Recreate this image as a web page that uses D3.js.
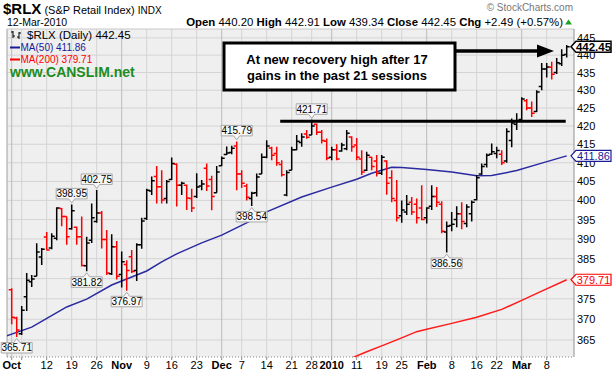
<!DOCTYPE html>
<html>
<head>
<meta charset="utf-8">
<script src="https://cdn.jsdelivr.net/npm/d3@7"></script>
<style>
  body { margin: 0; background: #fff; }
  svg { display: block; font-family: "Liberation Sans", Arial, sans-serif; }
</style>
</head>
<body>
<div id="chart"></div>
<script>
// trading days shown, by month
const octDays = [1,2,5,6,7,8,9,12,13,14,15,16,19,20,21,22,23,26,27,28,29,30];
const novDays = [2,3,4,5,6,9,10,11,12,13,16,17,18,19,20,23,24,25,27,30];
const decDays = [1,2,3,4,7,8,9,10,11,14,15,16,17,18,21,22,23,24,28,29,30,31];
const janDays = [4,5,6,7,8,11,12,13,14,15,19,20,21,22,25,26,27,28,29];
const febDays = [1,2,3,4,5,8,9,10,11,12,16,17,18,19,22,23,24,25,26];
const marDays = [1,2,3,4,5,8,9,10,11,12];

// daily OHLC
const opens = [377.2,370.3,366.5,375.5,379.2,380.6,385.4,390.5,387.7,390.2,
  397.9,395.8,392.6,393.0,390.6,383.2,389.7,394.5,396.7,389.9,
  381.2,388.0,381.0,383.5,385.5,382.0,388.5,395.3,402.5,406.3,
  403.6,400.5,405.5,409.6,404.0,404.0,400.5,401.0,403.8,408.5,
  405.5,402.0,409.2,412.2,412.8,414.5,407.0,403.8,400.5,402.0,
  407.0,411.5,414.0,412.5,409.5,401.4,408.0,413.5,415.5,417.8,
  417.5,420.5,418.3,415.8,411.5,413.5,413.2,413.8,417.0,414.8,
  411.0,408.0,411.5,410.5,407.2,410.5,406.0,400.0,396.0,397.0,
  399.5,399.0,398.0,395.5,398.5,401.0,399.0,391.8,393.5,395.0,
  396.5,394.0,396.5,400.2,407.0,409.5,412.3,412.5,412.3,410.5,
  416.0,420.5,421.8,427.0,425.0,424.0,431.0,436.0,436.5,435.0,
  437.5,440.20];
const highs = [377.6,370.6,373.2,381.4,380.9,388.9,387.7,391.8,391.5,398.2,
  398.0,395.8,398.95,393.2,395.8,390.6,399.2,402.75,397.2,392.3,
  391.2,389.5,386.8,384.6,387.2,388.9,395.5,403.1,406.3,409.1,
  408.0,405.4,411.4,409.9,404.9,404.2,403.1,407.2,405.4,409.8,
  406.5,409.1,411.7,414.4,414.6,415.79,408.0,404.4,402.3,407.1,
  412.5,416.1,414.3,414.3,410.7,408.0,414.3,417.5,418.0,418.9,
  421.71,420.7,418.9,416.6,414.3,415.0,415.4,418.9,417.2,416.7,
  413.4,413.0,411.6,412.1,412.1,410.7,408.0,405.4,400.0,401.4,
  400.9,400.5,404.0,398.2,404.0,403.5,399.8,394.5,397.0,398.5,
  399.5,399.0,400.0,406.7,409.8,412.5,415.2,414.3,413.4,419.4,
  422.1,423.5,428.0,427.5,426.8,430.0,437.7,437.7,438.1,439.2,
  441.7,442.91];
const lows = [368.8,365.71,366.2,372.0,377.9,380.6,383.4,387.1,387.4,389.7,
  393.3,388.5,392.4,388.5,383.0,381.82,389.0,394.2,387.6,380.9,
  380.9,379.8,377.8,376.97,381.4,379.4,387.5,394.9,401.4,399.2,
  399.2,399.2,405.4,398.4,401.4,397.5,397.0,400.6,402.7,402.5,
  397.4,402.0,409.1,412.1,412.3,402.7,403.3,400.0,398.54,401.0,
  407.0,411.2,410.7,409.2,406.3,401.1,408.0,413.4,414.3,416.5,
  417.5,417.5,415.2,410.7,410.7,410.7,413.0,413.4,413.0,410.7,
  406.7,407.8,408.0,406.3,406.7,401.5,399.5,394.5,394.2,396.2,
  396.2,394.0,394.8,394.0,397.5,398.3,391.5,386.56,392.0,393.0,
  392.5,393.0,394.5,400.0,406.7,408.7,412.1,411.2,409.4,410.0,
  414.2,418.9,421.5,424.4,422.5,423.9,430.0,433.6,433.0,434.6,
  436.9,439.34];
const closes = [370.5,367.4,372.2,379.6,379.9,386.7,387.4,387.2,390.7,398.0,
  395.8,390.6,397.3,390.6,383.3,389.0,395.5,396.7,389.9,381.4,
  388.0,380.6,384.2,382.0,381.8,388.5,394.6,402.7,405.2,403.6,
  400.1,405.0,409.8,404.0,404.5,400.6,398.0,403.5,404.3,403.8,
  401.0,407.5,411.2,412.6,413.9,407.0,404.5,400.8,401.9,406.2,
  411.5,414.5,412.0,410.0,406.8,407.4,413.5,415.8,417.0,416.9,
  420.0,418.3,416.0,411.2,413.5,411.0,414.8,418.0,414.3,411.5,
  407.5,412.0,409.0,407.2,411.5,404.5,400.5,395.5,397.5,399.0,
  397.0,395.5,395.0,398.0,401.0,399.5,392.0,393.3,393.8,396.5,
  394.5,398.3,399.5,406.0,409.0,412.0,413.0,413.3,410.0,418.5,
  420.8,421.5,427.5,425.0,423.5,429.5,436.0,436.6,434.5,437.8,
  439.96,442.45];
const priorClose = 380.0;

// moving averages (bar index, value)
const ma50Idx = [-1,4,11,15,20,24,27,30,33,38,42,48,51,58,64,69,72,76,78,83,88,93,96,101,106,111];
const ma50Val = [366.0,368.1,373.0,374.9,378.4,380.4,381.9,384.2,386.2,389.0,391.0,394.8,397.0,400.9,403.5,
  405.6,407.2,408.8,408.7,408.2,407.5,406.5,406.6,407.9,409.9,411.86];
const ma200Idx = [68,71,74,78,81,83,88,93,98,102,106,111];
const ma200Val = [360.7,362.2,363.6,365.5,367.0,367.6,369.0,370.5,372.4,374.6,376.9,379.71];

// labelled swing highs / lows
const swingIdx = [1,12,15,17,23,45,48,60,87];
const swingVal = [365.71,398.95,381.82,402.75,376.97,415.79,398.54,421.71,386.56];
const swingSide = ["below","above","below","above","below","above","below","above","below"];

const yTicks = [365,370,375,380,385,390,395,400,405,410,415,420,425,430,435,440,445];
const xTickDates = ["2009-10-01","2009-10-05","2009-10-12","2009-10-19","2009-10-26","2009-11-02","2009-11-09",
  "2009-11-16","2009-11-23","2009-12-01","2009-12-07","2009-12-14","2009-12-21","2009-12-28","2010-01-04",
  "2010-01-11","2010-01-19","2010-01-25","2010-02-01","2010-02-08","2010-02-16","2010-02-22","2010-03-01","2010-03-08"];
const xTickLabels = ["Oct","","12","19","26","Nov","9","16","23","Dec","7","14","21","28","2010",
  "11","19","25","Feb","8","16","22","Mar","8"];

const resistance = 421.3;

const width = 616, height = 376;
const margin = {top: 29, right: 42, bottom: 19, left: 7};
const plotR = width - margin.right, plotB = height - margin.bottom;

const fmt = d3.timeFormat("%Y-%m-%d");
const days = [].concat(
  octDays.map(d => new Date(2009, 9, d)), novDays.map(d => new Date(2009, 10, d)),
  decDays.map(d => new Date(2009, 11, d)), janDays.map(d => new Date(2010, 0, d)),
  febDays.map(d => new Date(2010, 1, d)), marDays.map(d => new Date(2010, 2, d)));
const dayKeys = days.map(fmt);
const n = days.length;

const x = d3.scaleLinear().domain([0, n - 1]).range([11.7, 566.7]);
const y = d3.scaleLog().domain([360.95, 447.6]).range([plotB, margin.top]);

const svg = d3.select("#chart").append("svg")
  .attr("width", width).attr("height", height);

svg.append("defs").append("clipPath").attr("id", "plot")
  .append("rect").attr("x", margin.left).attr("y", margin.top)
  .attr("width", plotR - margin.left).attr("height", plotB - margin.top);

// plot background + grid
svg.append("rect").attr("x", margin.left).attr("y", margin.top)
  .attr("width", plotR - margin.left).attr("height", plotB - margin.top)
  .attr("fill", "#efefef");

svg.append("g").selectAll("line").data(yTicks).join("line")
  .attr("x1", margin.left).attr("x2", plotR)
  .attr("y1", d => y(d)).attr("y2", d => y(d))
  .attr("stroke", "#d4d4d4").attr("stroke-width", 1);

const xTicks = xTickDates.map((k, j) => ({i: dayKeys.indexOf(k), label: xTickLabels[j], major: isNaN(+xTickLabels[j]) || xTickLabels[j] === "2010"}));

svg.append("g").selectAll("line").data(xTicks).join("line")
  .attr("x1", d => x(d.i)).attr("x2", d => x(d.i))
  .attr("y1", margin.top).attr("y2", plotB)
  .attr("stroke", d => d.major ? "#bcbcbc" : "#d4d4d4").attr("stroke-width", 1);

// frame
svg.append("line").attr("x1", margin.left).attr("x2", margin.left).attr("y1", margin.top).attr("y2", plotB)
  .attr("stroke", "#a0a0a0");
svg.append("line").attr("x1", margin.left).attr("x2", plotR).attr("y1", margin.top).attr("y2", margin.top)
  .attr("stroke", "#c8c8c8");
svg.append("line").attr("x1", plotR).attr("x2", plotR).attr("y1", margin.top).attr("y2", plotB)
  .attr("stroke", "#909090");
svg.append("line").attr("x1", margin.left).attr("x2", plotR).attr("y1", plotB).attr("y2", plotB)
  .attr("stroke", "#8a8a8a").attr("stroke-dasharray", "1,2");
svg.append("g").selectAll("line").data(xTicks).join("line")
  .attr("x1", d => x(d.i)).attr("x2", d => x(d.i))
  .attr("y1", plotB).attr("y2", plotB + 3)
  .attr("stroke", "#8a8a8a");

const plot = svg.append("g").attr("clip-path", "url(#plot)");

// moving averages
const maLine = d3.line().x(d => x(d[0])).y(d => y(d[1]));
plot.append("path").datum(ma50Idx.map((i, j) => [i, ma50Val[j]]))
  .attr("d", maLine).attr("fill", "none").attr("stroke", "#2a2aa0").attr("stroke-width", 1.5);
plot.append("path").datum(ma200Idx.map((i, j) => [i, ma200Val[j]]))
  .attr("d", maLine).attr("fill", "none").attr("stroke", "#ff1a1a").attr("stroke-width", 1.5);

// OHLC bars
const bars = d3.range(n).map(i => ({
  i, o: opens[i], h: highs[i], l: lows[i], c: closes[i],
  up: closes[i] >= (i ? closes[i - 1] : priorClose)
}));
plot.append("g").selectAll("path").data(bars).join("path")
  .attr("d", d => {
    const cx = x(d.i);
    return `M${cx},${y(d.h)}V${y(d.l)}M${cx - 3},${y(d.o)}H${cx}M${cx},${y(d.c)}H${cx + 3}`;
  })
  .attr("fill", "none")
  .attr("stroke", d => d.up ? "#000" : "#ff0000")
  .attr("stroke-width", 1.5);

// resistance line
svg.append("line")
  .attr("x1", x(53.7)).attr("x2", x(110.8))
  .attr("y1", y(resistance)).attr("y2", y(resistance))
  .attr("stroke", "#000").attr("stroke-width", 3);

// swing labels
const tagW = 31, tagH = 10.5, gap = 5.5;
const tags = svg.append("g").selectAll("g").data(swingIdx.map((i, j) => ({i, v: swingVal[j], side: swingSide[j]})))
  .join("g");
tags.append("path")
  .attr("d", d => {
    const cx = x(d.i), py = y(d.v);
    const bx = Math.max(0.5, cx - tagW / 2);
    if (d.side === "above") {
      const by = py - gap - tagH;
      return `M${bx},${by}H${bx + tagW}V${by + tagH}H${cx + 3}L${cx},${py - 1.5}L${cx - 3},${by + tagH}H${bx}Z`;
    }
    const by = py + gap;
    return `M${bx},${by}H${cx - 3}L${cx},${py + 1.5}L${cx + 3},${by}H${bx + tagW}V${by + tagH}H${bx}Z`;
  })
  .attr("fill", "#f8f8f8").attr("stroke", "#a8a8a8").attr("stroke-width", 1);
tags.append("text")
  .attr("x", d => Math.max(0.5, x(d.i) - tagW / 2) + tagW / 2)
  .attr("y", d => d.side === "above" ? y(d.v) - gap - 1.6 : y(d.v) + gap + tagH - 1.6)
  .attr("text-anchor", "middle")
  .attr("font-size", 10).attr("fill", "#000")
  .text(d => d.v.toFixed(2));

// last value tags on the right (tick labels they fully cover are left out, as in the original)
const tagValues = [closes[n - 1], ma50Val[ma50Val.length - 1], ma200Val[ma200Val.length - 1]];
const shownTicks = yTicks.filter(t => tagValues.every(v => Math.abs(y(t) - y(v)) > 2.5));

// y axis labels
svg.append("g").selectAll("text").data(shownTicks).join("text")
  .attr("x", plotR + 3).attr("y", d => y(d) + 4)
  .attr("font-size", 11).attr("fill", "#000")
  .text(d => d);

// x axis labels
svg.append("g").selectAll("text").data(xTicks).join("text")
  .attr("x", d => x(d.i)).attr("y", 368.5)
  .attr("text-anchor", "middle")
  .attr("font-size", 11)
  .attr("font-weight", d => d.major ? "bold" : "normal")
  .text(d => d.label);

function valueTag(v, color, bold) {
  const py = y(v);
  const g = svg.append("g");
  g.append("path")
    .attr("d", `M${plotR - 3},${py}L${plotR + 2},${py - 5.5}H${plotR + 37}V${py + 5.5}H${plotR + 2}Z`)
    .attr("fill", "#fff").attr("stroke", color).attr("stroke-width", bold ? 1.5 : 1.2);
  g.append("text").attr("x", plotR + 19.5).attr("y", py + 4)
    .attr("text-anchor", "middle")
    .attr("font-size", bold ? 11.5 : 11).attr("font-weight", bold ? "bold" : "normal")
    .attr("fill", color).text(v.toFixed(2));
}
valueTag(ma200Val[ma200Val.length - 1], "#ff0000", false);
valueTag(ma50Val[ma50Val.length - 1], "#1a1a99", false);
valueTag(closes[n - 1], "#000", true);

// header
const title = svg.append("text").attr("x", 3).attr("y", 14);
title.append("tspan").attr("font-size", 15).attr("font-weight", "bold").text("$RLX");
title.append("tspan").attr("font-size", 11).text(" (S&P Retail Index) ");
title.append("tspan").attr("font-size", 10).text("INDX");

svg.append("text").attr("x", 7).attr("y", 25.5).attr("font-size", 10.5).text("12-Mar-2010");

svg.append("text").attr("x", 573).attr("y", 11).attr("text-anchor", "end")
  .attr("font-size", 10).attr("fill", "#777").text("\u00a9 StockCharts.com");

const last = n - 1;
const chg = closes[last] - closes[last - 1];
const info = svg.append("text").attr("x", 563).attr("y", 25.5).attr("text-anchor", "end").attr("font-size", 11.4);
[["Open", opens[last]], ["High", highs[last]], ["Low", lows[last]], ["Close", closes[last]]].forEach(([k, v]) => {
  info.append("tspan").attr("font-weight", "bold").text(k + " ");
  info.append("tspan").text(v.toFixed(2) + " ");
});
info.append("tspan").attr("font-weight", "bold").text("Chg ");
info.append("tspan").text(`+${chg.toFixed(2)} (+${(chg / closes[last - 1] * 100).toFixed(2)}%)`);
svg.append("path").attr("d", "M565,24.5L568.5,19.5L572,24.5Z").attr("fill", "#1fa01f");

// legend inside plot
const sym = svg.append("g").attr("stroke", "#000").attr("stroke-width", 1).attr("fill", "none");
sym.append("path").attr("d", "M13,31V38M11,32H13M13,36H15M19,32V39M17,37H19M19,33H21");
svg.append("text").attr("x", 27).attr("y", 39).attr("font-size", 11.5).text("$RLX (Daily) 442.45");
svg.append("line").attr("x1", 10).attr("x2", 20).attr("y1", 47.5).attr("y2", 47.5).attr("stroke", "#1a1a99").attr("stroke-width", 2);
svg.append("text").attr("x", 20.5).attr("y", 51).attr("font-size", 10).attr("fill", "#1a1a99").text("MA(50) 411.86");
svg.append("line").attr("x1", 10).attr("x2", 20).attr("y1", 59.5).attr("y2", 59.5).attr("stroke", "#ff0000").attr("stroke-width", 2);
svg.append("text").attr("x", 20.5).attr("y", 63).attr("font-size", 10).attr("fill", "#ff0000").text("MA(200) 379.71");
svg.append("text").attr("x", 10).attr("y", 76.5).attr("font-size", 14).attr("font-weight", "bold")
  .attr("fill", "#1e8c1e").text("www.CANSLIM.net");

// annotation
svg.append("rect").attr("x", 224).attr("y", 43).attr("width", 231).attr("height", 47)
  .attr("fill", "#fff").attr("stroke", "#000").attr("stroke-width", 3);
const note = svg.append("text").attr("text-anchor", "middle").attr("font-size", 13).attr("font-weight", "bold");
note.append("tspan").attr("x", 337).attr("y", 64).text("At new recovery high after 17");
note.append("tspan").attr("x", 337).attr("y", 79.5).text("gains in the past 21 sessions");
svg.append("line").attr("x1", 456).attr("x2", 540).attr("y1", 51).attr("y2", 51)
  .attr("stroke", "#000").attr("stroke-width", 3.5);
svg.append("path").attr("d", "M537,44.5L554,51L537,57.5Z").attr("fill", "#000");
</script>
</body>
</html>
